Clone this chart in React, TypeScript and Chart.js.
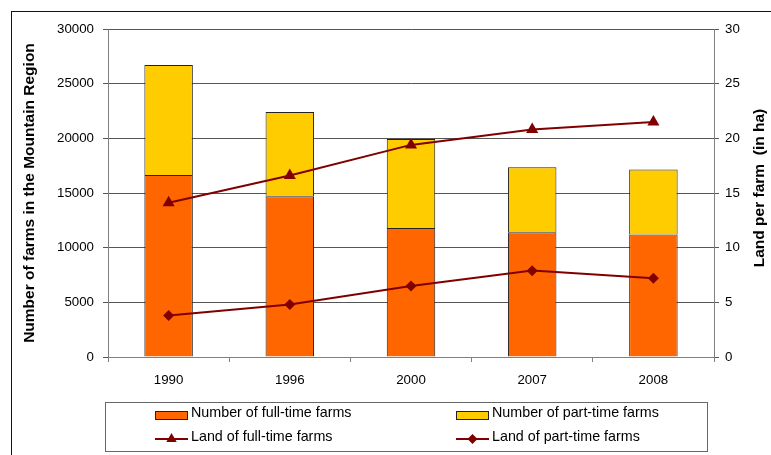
import React, { useEffect, useRef } from 'react';
import { Chart, registerables } from 'chart.js';

Chart.register(...registerables);

const categories = ['1990', '1996', '2000', '2007', '2008'];
const fullTimeFarms = [16650, 14700, 11800, 11400, 11200];
const partTimeFarms = [10050, 7700, 8150, 5950, 5950];
const landFullTime = [14.1, 16.6, 19.4, 20.8, 21.5];
const landPartTime = [3.8, 4.8, 6.5, 7.9, 7.2];
const seriesLabels = [
  'Number of full-time farms',
  'Number of part-time farms',
  'Land of full-time farms',
  'Land of part-time farms',
];
const leftAxisTitle = 'Number of farms in the Mountain Region';
const rightAxisTitle = 'Land per farm  (in ha)';

const W = 771;
const H = 455;
const FONT = '"Liberation Sans", Arial, sans-serif';
const ORANGE = '#FF6600';
const YELLOW = '#FFCC00';
const DARKRED = '#800000';

function drawTriangle(ctx: CanvasRenderingContext2D, x: number, y: number, r: number) {
  ctx.beginPath();
  let rad = 0;
  ctx.moveTo(x + Math.sin(rad) * r, y - Math.cos(rad) * r);
  rad += (2 * Math.PI) / 3;
  ctx.lineTo(x + Math.sin(rad) * r, y - Math.cos(rad) * r);
  rad += (2 * Math.PI) / 3;
  ctx.lineTo(x + Math.sin(rad) * r, y - Math.cos(rad) * r);
  ctx.closePath();
  ctx.fill();
}

function drawDiamond(ctx: CanvasRenderingContext2D, x: number, y: number, r: number) {
  ctx.beginPath();
  ctx.moveTo(x, y - r);
  ctx.lineTo(x + r, y);
  ctx.lineTo(x, y + r);
  ctx.lineTo(x - r, y);
  ctx.closePath();
  ctx.fill();
}

const decorPlugin = {
  id: 'decor',
  afterDraw(chart: any) {
    const ctx: CanvasRenderingContext2D = chart.ctx;
    const area = chart.chartArea;
    ctx.save();
    // axis titles
    ctx.fillStyle = '#000';
    ctx.font = `bold 15.5px ${FONT}`;
    ctx.textAlign = 'center';
    ctx.textBaseline = 'middle';
    ctx.save();
    ctx.translate(30, 193);
    ctx.rotate(-Math.PI / 2);
    ctx.fillText(leftAxisTitle, 0, 0);
    ctx.restore();
    ctx.save();
    ctx.translate(760, 188);
    ctx.rotate(-Math.PI / 2);
    ctx.fillText(rightAxisTitle, 0, 0);
    ctx.restore();

    // legend
    const ds = chart.data.datasets;
    ctx.strokeStyle = '#666';
    ctx.lineWidth = 1;
    ctx.strokeRect(105.5, 402.5, 602, 49);
    ctx.font = `14.3px ${FONT}`;
    ctx.textAlign = 'left';
    ctx.textBaseline = 'middle';
    const cols = [155, 456];
    const rows = [413, 437.5];
    const items = [
      { i: 0, c: 0, r: 0 },
      { i: 1, c: 1, r: 0 },
      { i: 2, c: 0, r: 1 },
      { i: 3, c: 1, r: 1 },
    ];
    items.forEach(({ i, c, r }) => {
      const d = ds[i];
      const x = cols[c];
      const y = rows[r];
      if (d.type === 'line') {
        ctx.strokeStyle = d.borderColor;
        ctx.lineWidth = 2;
        ctx.beginPath();
        ctx.moveTo(x, y + 1.5);
        ctx.lineTo(x + 33, y + 1.5);
        ctx.stroke();
        ctx.fillStyle = d.borderColor;
        if (d.pointStyle === 'triangle') drawTriangle(ctx, x + 16.5, y + 1.5, 6);
        else drawDiamond(ctx, x + 16.5, y + 1.5, 5);
      } else {
        ctx.fillStyle = d.backgroundColor;
        ctx.fillRect(x, y - 2, 33, 9);
        ctx.strokeStyle = '#222';
        ctx.lineWidth = 1;
        ctx.strokeRect(x + 0.5, y - 1.5, 32, 8);
      }
      ctx.fillStyle = '#000';
      ctx.fillText(d.label, x + 36, y);
    });
    ctx.restore();
  },
};

const plainNumber = (v: any) => String(v);

export default function App() {
  const ref = useRef<HTMLCanvasElement>(null);
  useEffect(() => {
    if (!ref.current) return;
    const tickFont = { family: FONT, size: 13.3 };
    const chart = new Chart(ref.current, {
      type: 'bar',
      data: {
        labels: categories,
        datasets: [
          {
            type: 'bar',
            label: seriesLabels[0],
            data: fullTimeFarms,
            backgroundColor: ORANGE,
            borderColor: '#222',
            borderWidth: 1,
            yAxisID: 'y',
            stack: 's',
            order: 2,
            categoryPercentage: 1,
            barPercentage: 0.4,
          },
          {
            type: 'bar',
            label: seriesLabels[1],
            data: partTimeFarms,
            backgroundColor: YELLOW,
            borderColor: '#222',
            borderWidth: 1,
            yAxisID: 'y',
            stack: 's',
            order: 2,
            categoryPercentage: 1,
            barPercentage: 0.4,
          },
          {
            type: 'line',
            label: seriesLabels[2],
            data: landFullTime,
            borderColor: DARKRED,
            backgroundColor: DARKRED,
            borderWidth: 2,
            pointStyle: 'triangle',
            pointRadius: 7,
            pointBorderWidth: 0,
            yAxisID: 'y1',
            order: 0,
          },
          {
            type: 'line',
            label: seriesLabels[3],
            data: landPartTime,
            borderColor: DARKRED,
            backgroundColor: DARKRED,
            borderWidth: 2,
            pointStyle: 'rectRot',
            pointRadius: 5.5,
            pointBorderWidth: 0,
            yAxisID: 'y1',
            order: 0,
          },
        ] as any,
      },
      options: {
        responsive: false,
        animation: false,
        events: [],
        layout: { padding: { top: 29, left: 0, right: 0, bottom: 0 } },
        plugins: { legend: { display: false }, tooltip: { enabled: false }, title: { display: false } },
        scales: {
          x: {
            type: 'category',
            stacked: true,
            offset: true,
            grid: { display: true, drawOnChartArea: false, drawTicks: true, tickLength: 5, color: '#808080', offset: true },
            border: { display: true, color: '#808080' },
            ticks: { font: tickFont, color: '#000', padding: 10, maxRotation: 0 },
            afterFit: (s: any) => { s.height = 98; },
          },
          y: {
            type: 'linear',
            position: 'left',
            stacked: true,
            min: 0,
            max: 30000,
            grid: { color: '#555', tickLength: 5 },
            border: { display: true, color: '#808080' },
            ticks: { stepSize: 5000, font: tickFont, color: '#000', padding: 9, callback: plainNumber },
            afterFit: (s: any) => { s.width = 108; },
          },
          y1: {
            type: 'linear',
            position: 'right',
            min: 0,
            max: 30,
            grid: { drawOnChartArea: false, color: '#555', tickLength: 5 },
            border: { display: true, color: '#808080' },
            ticks: { stepSize: 5, font: tickFont, color: '#000', padding: 6, callback: plainNumber },
            afterFit: (s: any) => { s.width = W - 714; },
          },
        },
      } as any,
      plugins: [decorPlugin],
    });
    return () => chart.destroy();
  }, []);

  return (
    <div style={{ position: 'absolute', left: 0, top: 0, width: W, height: H, background: '#fff' }}>
      <div
        style={{
          position: 'absolute',
          left: 11,
          top: 11,
          width: W,
          height: H,
          borderLeft: '1px solid #111',
          borderTop: '1px solid #111',
          boxSizing: 'border-box',
        }}
      />
      <canvas ref={ref} width={W} height={H} style={{ position: 'absolute', left: 0, top: 0, width: W, height: H }} />
    </div>
  );
}
